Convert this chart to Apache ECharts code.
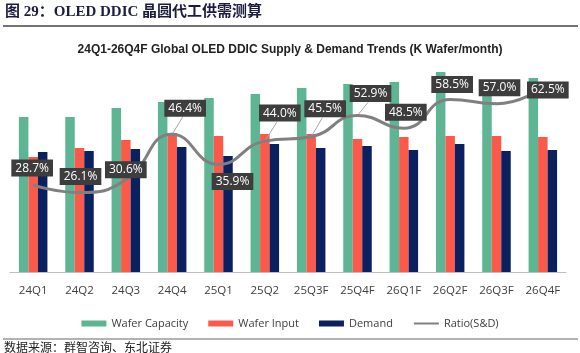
<!DOCTYPE html>
<html>
<head>
<meta charset="UTF-8">
<title>OLED DDIC 晶圆代工供需测算</title>
<script src="https://cdn.jsdelivr.net/npm/echarts@6/dist/echarts.min.js" type="text/javascript"></script>
<style>
  html, body { margin: 0; padding: 0; background: #fff; }
  #chart { width: 580px; height: 353px; }
</style>
</head>
<body>
	<div id="chart"></div>
<script type="text/javascript">
	// data (bar heights are estimates, K wafer/month)
	var quarters = ['24Q1', '24Q2', '24Q3', '24Q4', '25Q1', '25Q2', '25Q3F', '25Q4F', '26Q1F', '26Q2F', '26Q3F', '26Q4F'];
	var waferCapacity = [155, 155, 164, 170, 174, 178, 184, 188, 190, 200, 192, 194];
	var waferInput = [115, 124, 132, 139, 136, 138, 138, 133, 135, 136, 136, 135];
	var demand = [120, 121, 123, 125, 116, 128, 124, 126, 122, 128, 121, 122];
	var ratio = [28.7, 26.1, 30.6, 46.4, 35.9, 44.0, 45.5, 52.9, 48.5, 58.5, 57.0, 62.5];

	// where each ratio box sits relative to its point, and which get a leader line
	var labelShift = [[-1, -17], [1, -16], [0, -10], [13, -26], [14, 17], [15, -28],
	                  [14, -28], [13, -22], [2, -16], [2, -15], [3, -16], [5, 2]];
	var leader = [3, 5, 6, 7];

	var myChart = echarts.init(document.getElementById('chart'));

	// thin leader lines from a point to its shifted label box
	function renderLeader(params, api) {
		var i = api.value(0);
		if (leader.indexOf(i) < 0) return null;
		var p = api.coord([i, api.value(1)]);
		var s = labelShift[i];
		return {
			type: 'line',
			shape: { x1: p[0], y1: p[1], x2: p[0] + s[0] * 0.8, y2: p[1] + s[1] + 9 },
			style: { stroke: '#a6a6a6', lineWidth: 1 }
		};
	}

	var option = {
		animation: false,
		title: {
			text: '24Q1-26Q4F Global OLED DDIC Supply & Demand Trends (K Wafer/month)',
			left: 'center',
			top: 39,
			textStyle: { fontFamily: 'Liberation Sans', fontSize: 12, fontWeight: 'bold', color: '#222' }
		},
		graphic: [
			{ type: 'text', left: 5, top: 5, style: { text: '图 29：OLED DDIC 晶圆代工供需测算',
				font: 'bold 15px "Liberation Serif", "Noto Sans CJK SC"', fill: '#1c1c40' } },
			{ type: 'line', shape: { x1: 3, y1: 26, x2: 578, y2: 26 }, style: { stroke: '#444', lineWidth: 1.5 } },
			{ type: 'line', shape: { x1: 3, y1: 339, x2: 578, y2: 339 }, style: { stroke: '#666', lineWidth: 1 } },
			{ type: 'text', left: 4, top: 341, style: { text: '数据来源：群智咨询、东北证券',
				font: '12px "Noto Sans CJK SC"', fill: '#222' } }
		],
		legend: {
			top: 313,
			left: 'center',
			itemWidth: 25,
			itemHeight: 6,
			itemGap: 20,
			textStyle: { fontFamily: 'Open Sans', fontSize: 11, color: '#404040' },
			data: [
				{ name: 'Wafer Capacity', icon: 'rect' },
				{ name: 'Wafer Input', icon: 'rect' },
				{ name: 'Demand', icon: 'rect' },
				{ name: 'Ratio(S&D)', itemStyle: { opacity: 0 } }
			]
		},
		grid: { left: 10, right: 14, top: 62, bottom: 81 },
		xAxis: {
			type: 'category',
			data: quarters,
			axisTick: { show: false },
			axisLine: { lineStyle: { color: '#bfbfbf' } },
			axisLabel: { margin: 13, fontFamily: 'Open Sans', fontSize: 11.5, color: '#404040' }
		},
		yAxis: [
			{ type: 'value', min: 0, max: 210, show: false, splitLine: { show: false } },
			{ type: 'value', min: -1.5, max: 71.5, show: false, splitLine: { show: false } }
		],
		series: [
			{
				name: 'Wafer Capacity', type: 'bar', data: waferCapacity,
				barWidth: 9.5, barGap: '0%', barCategoryGap: '35%',
				itemStyle: { color: '#5eb594' }
			},
			{
				name: 'Wafer Input', type: 'bar', data: waferInput,
				barWidth: 9.5, barGap: '0%',
				itemStyle: { color: '#fb5a4b' }
			},
			{
				name: 'Demand', type: 'bar', data: demand,
				barWidth: 9.5, barGap: '0%',
				itemStyle: { color: '#0b215f' }
			},
			{
				name: 'Ratio(S&D)', type: 'line', yAxisIndex: 1, data: ratio,
				smooth: 0.5,
				symbol: 'circle', symbolSize: 1,
				itemStyle: { color: '#808080' },
				lineStyle: { color: '#808080', width: 3 },
				z: 5,
				label: {
					show: true,
					position: 'inside',
					formatter: function (p) { return p.value.toFixed(1) + '%'; },
					backgroundColor: '#3d3d3d',
					color: '#fff',
					fontFamily: 'Open Sans',
					fontSize: 12,
					padding: [3, 4, 2, 4]
				},
				labelLayout: function (p) {
					var s = labelShift[p.dataIndex];
					return { dx: s[0], dy: s[1] };
				}
			},
			{
				name: 'leader', type: 'custom', yAxisIndex: 1, z: 4,
				data: ratio.map(function (v, i) { return [i, v]; }),
				renderItem: renderLeader,
				silent: true
			}
		]
	};

	myChart.setOption(option);
</script>
</body>
</html>
